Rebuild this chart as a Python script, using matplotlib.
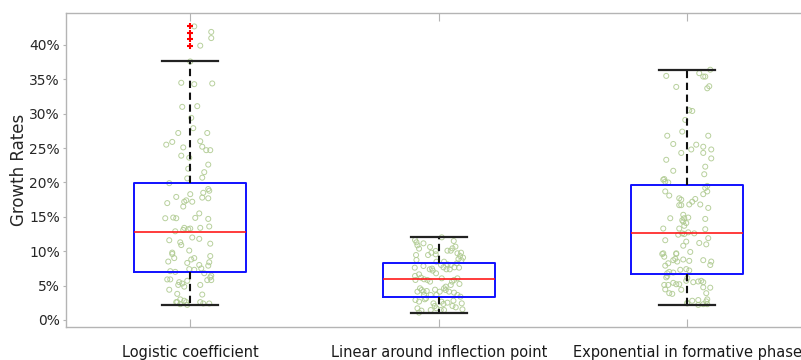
import numpy as np
import matplotlib
matplotlib.use("Agg")
import matplotlib.pyplot as plt
from matplotlib.ticker import PercentFormatter

categories = ["Logistic coefficient", "Linear around inflection point", "Exponential in formative phase"]

# box statistics (growth rate, %)
whislo = [2.18, 1.07, 2.18]
q1 = [6.94, 3.30, 6.74]
med = [12.85, 5.96, 12.70]
q3 = [19.93, 8.29, 19.60]
whishi = [37.6, 12.1, 36.36]
fliers = [[39.9, 40.9, 41.8, 42.7], [], []]

# individual observations: (jitter, value %)
obs_logistic = [
    (4,42.7),(21,41.9),(21,41.0),(10,39.9),(0,37.6),(-9,34.5),(4,34.3),(22,34.4),(-8,31.0),(7,31.1),
    (1,29.4),(3,27.9),(-12,27.2),(17,27.2),(-24,25.5),(-18,25.9),(10,26.0),(-7,25.1),(12,25.2),(16,24.7),
    (20,24.7),(-9,23.9),(-1,23.6),(18,22.6),(-2,22.0),(14,21.5),(-3,20.6),(12,20.7),
    (-21,19.9),(18,19.05),(19,18.8),(13,18.5),(0,18.3),(-14,17.9),(12,17.8),(18,17.7),(-4,17.4),(-6,17.2),
    (2,17.2),(-23,17.0),(-7,16.5),(9,15.5),(-25,14.8),(-17,14.9),(-14,14.8),(5,14.85),(18,14.7),
    (-15,12.9),(-6,13.4),(-2,13.2),(0,13.3),(-7,13.1),(10,13.4),(19,13.6),(2,12.0),(9,11.8),(-21,11.6),
    (-10,11.3),(-9,10.9),(20,11.1),(-1,10.1),(-18,9.8),(-18,9.6),(20,9.3),(-16,9.0),(1,8.8),(4,9.0),
    (-3,8.3),(9,8.0),(11,7.5),(19,8.4),(18,7.9),(-22,8.5),(-1,7.4),(4,7.3),(-20,7.1),(-15,7.0),(14,6.8),
    (21,6.45),(20,6.2),(-23,5.9),(-20,5.9),(-11,5.5),(-8,5.3),(-12,5.1),(-3,5.7),(10,5.1),(21,5.8),
    (17,5.8),(-6,4.85),(-21,4.4),(-13,3.8),(12,3.7),(-10,3.0),(-13,2.6),(-4,2.6),(-6,2.8),(10,2.6),
    (13,2.4),(19,2.4),(-10,2.3),(-3,2.2),(-14,2.6),
]
obs_linear = [
    (-23.7,11.64),(-22.3,11.3),(-21.3,10.86),(-19.7,10.38),(-15.3,11.15),(-8.7,10.62),(3,12.02),(15,11.49),
    (13.7,10.42),(16.7,10.67),(8.7,10.08),(12,10.08),(-10.7,9.45),(-7.3,9.79),(-3,10.04),(-3,9.55),
    (-22.7,9.45),(-22.3,8.73),(18.7,9.7),(22.3,9.79),(21.3,9.31),(24.3,9.07),(22.7,8.68),(19.7,8.87),
    (-2.3,8.48),(5.3,8.48),(8.7,8.1),(2.3,8.0),(12,8.0),(18,8.24),(15.7,7.66),(-24,7.61),(-15.3,7.85),
    (-9,7.37),(-6.7,7.47),(-6,7.18),(-2.7,6.79),(4.7,7.66),(7.7,7.37),(11,7.37),(20.3,7.61),
    (-23.7,6.4),(-19.7,6.64),(-17.7,6.16),(-23.3,5.82),(-14.7,5.92),(-11.3,5.82),(-8.7,5.58),(3,6.06),
    (7,4.85),(12,5.09),(13.3,5.58),(15.3,5.82),(18.7,6.06),(20.7,5.24),(-18.7,4.61),(-17,4.36),
    (-21.3,4.12),(-15.3,4.12),(-12,4.22),(-3.7,4.41),(1,4.12),(5.3,4.61),(7,4.36),(10.3,4.12),
    (15.3,3.98),(18.7,3.64),(21.7,3.39),(-14.7,3.64),(-8,3.64),(-12.7,3.15),(-2.3,3.64),
    (-23.3,2.91),(-19.7,2.67),(-14,3.01),(-5.3,2.42),(-4,2.04),(2.7,2.67),(4.7,2.33),(8.7,2.52),
    (14.7,2.81),(13.7,2.04),(17,1.84),(23,2.42),(23.7,1.55),(-21.3,1.7),(-17.3,1.36),(-8,1.45),
    (-2.3,1.7),(5.3,1.45),(-19.7,1.07),(2,1.45),
]
obs_exponential = [
    (23,36.4),(-21,35.5),(12,35.9),(16,35.4),(18,35.4),(-11,33.9),(20,33.7),(22,34.0),(2,30.5),(5,30.4),
    (-2,29.1),(-5,27.4),(-20,26.8),(21,26.8),(-14,25.6),(9,25.5),(16,25.2),(4,24.8),(24,24.8),(-6,24.3),
    (16,24.3),(24,23.5),(-21,23.3),(18,22.3),(-14,21.7),(17,21.2),(-23,20.5),
    (-24,20.4),(-22,20.1),(-19,20.0),(20,19.5),(18,19.2),(-22,18.7),(-18,18.1),(16,18.3),(20,18.7),
    (-8,17.7),(-6,17.5),(-8,16.7),(-6,16.7),(2,16.8),(5,17.2),(8,17.6),(13,16.8),(21,16.3),(-4,15.3),
    (-3,14.8),(-5,14.5),(1,14.9),(-17,14.8),(18,14.7),(-4,14.3),(-1,14.1),(-3,13.7),(-8,13.3),(-24,13.3),
    (18,13.2),(-5,12.6),(-3,12.5),(1,12.75),(7,12.6),(-9,12.4),(21,11.9),(-22,11.6),(-1,11.4),(-4,10.8),
    (12,11.2),(19,11.0),(-24,9.7),(-11,9.7),(3,9.9),
    (-25,9.6),(-23,9.2),(-19,8.25),(-22,7.9),(-11,9.6),(-12,8.9),(-10,8.5),(-14,8.7),(-4,8.8),(2,8.6),
    (16,8.7),(24,8.5),(23,8.0),(-7,7.3),(-1,7.4),(2,7.2),(-20,6.8),(-18,7.0),(-14,6.9),(-21,6.2),
    (-20,6.4),(0,6.1),(-1,5.7),(6,5.5),(11,5.6),(14,5.7),(16,5.5),(-23,5.1),(-19,5.1),(-14,5.4),
    (-11,5.2),(-8,5.2),(-22,4.45),(-18,3.9),(-15,3.8),(-6,4.4),(16,4.75),(23,4.7),(19,3.9),(0,2.5),
    (5,2.8),(11,2.9),(20,3.0),(19,2.7),(11,2.2),(16,2.3),(20,2.3),(0,2.4),
]
observations = [obs_logistic, obs_linear, obs_exponential]

fig = plt.figure(figsize=(8.01, 3.60), dpi=100)
ax = fig.add_axes([66/801, 33/360, 745.5/801, 314/360])

JIT = 1/248.5  # jitter unit in category widths
for i, obs in enumerate(observations):
    arr = np.array(obs, dtype=float)
    ax.scatter(i + 1 + arr[:, 0] * JIT, arr[:, 1], s=13, facecolors='none',
               edgecolors='#b0cb92', linewidths=0.7, alpha=0.9, zorder=2)

stats = []
for i in range(3):
    stats.append(dict(whislo=whislo[i], q1=q1[i], med=med[i], q3=q3[i],
                      whishi=whishi[i], fliers=fliers[i], label=categories[i]))

ax.bxp(stats, positions=[1, 2, 3], widths=0.45, showfliers=True,
       boxprops=dict(color='#1010ff', linewidth=1.4),
       medianprops=dict(color='#ff1a1a', linewidth=1.2),
       whiskerprops=dict(color='#111111', linewidth=1.5, linestyle=(0, (3.5, 2.2))),
       capprops=dict(color='#222222', linewidth=1.6),
       capwidths=0.225,
       flierprops=dict(marker='+', markeredgecolor='#ff0000', markersize=4,
                       markeredgewidth=1.5, linestyle='none'),
       zorder=3)

ax.set_xlim(0.5, 3.5)
ax.set_ylim(-1.02, 44.65)
ax.set_yticks(np.arange(0, 41, 5))
ax.yaxis.set_major_formatter(PercentFormatter(xmax=100, decimals=0))
ax.set_xticks([1, 2, 3])
ax.set_xticklabels(categories)

for sp in ax.spines.values():
    sp.set_color('#b4b4b4')
    sp.set_linewidth(1.0)

ax.tick_params(axis='x', direction='in', length=6, color='#b4b4b4', top=True,
               labelsize=10.5, labelcolor='#1a1a1a', pad=13)
ax.tick_params(axis='y', direction='out', length=2.5, color='#b4b4b4',
               labelsize=10, labelcolor='#262626', pad=2)
ax.set_ylabel('Growth Rates', fontsize=12, color='#262626', labelpad=1)

fig.savefig('out.png', dpi=100)
